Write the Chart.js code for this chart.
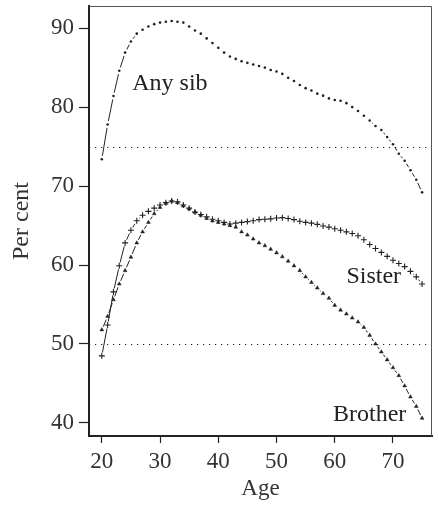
<!DOCTYPE html>
<html>
<head>
<meta charset="utf-8">
<script src="https://cdn.jsdelivr.net/npm/chart.js@4.4.1/dist/chart.umd.min.js"></script>
<style>
  html, body { margin: 0; padding: 0; background: #fff; }
  #wrap { width: 439px; height: 508px; }
</style>
</head>
<body>
<div id="wrap"><canvas id="chart"></canvas></div>
<script>
// age in years, one point per year
const AGES = [20, 21, 22, 23, 24, 25, 26, 27, 28, 29, 30, 31, 32, 33, 34, 35, 36, 37, 38, 39,
  40, 41, 42, 43, 44, 45, 46, 47, 48, 49, 50, 51, 52, 53, 54, 55, 56, 57, 58, 59,
  60, 61, 62, 63, 64, 65, 66, 67, 68, 69, 70, 71, 72, 73, 74, 75];

// per cent with any sibling alive
const ANY_SIB = [73.4, 77.8, 81.4, 84.6, 86.9, 88.3, 89.3, 89.8, 90.2, 90.5, 90.7, 90.8, 90.9, 90.8, 90.7, 90.2, 89.7, 89.3, 88.7, 88.1,
  87.5, 86.9, 86.4, 86.1, 85.8, 85.6, 85.4, 85.2, 85.0, 84.7, 84.5, 84.2, 83.7, 83.3, 82.8, 82.4, 82.1, 81.7, 81.45, 81.1,
  80.9, 80.8, 80.5, 80.0, 79.5, 78.9, 78.3, 77.6, 77.1, 76.2, 75.3, 74.1, 73.2, 72.0, 70.8, 69.2];

const SISTER = [48.5, 52.4, 56.6, 59.9, 62.8, 64.4, 65.6, 66.3, 66.8, 67.2, 67.6, 67.9, 68.1, 68.0, 67.6, 67.2, 66.7, 66.4, 66.1, 65.8,
  65.6, 65.4, 65.2, 65.3, 65.4, 65.5, 65.6, 65.75, 65.8, 65.85, 65.95, 66.0, 65.9, 65.75, 65.55, 65.4, 65.3, 65.15, 64.95, 64.8,
  64.6, 64.4, 64.2, 64.0, 63.7, 63.2, 62.6, 62.1, 61.6, 61.1, 60.6, 60.2, 59.8, 59.2, 58.5, 57.6];

const BROTHER = [51.8, 53.5, 55.6, 57.6, 59.3, 61.0, 62.8, 64.2, 65.4, 66.5, 67.3, 67.8, 68.1, 67.9, 67.5, 67.1, 66.7, 66.3, 65.9, 65.6,
  65.4, 65.2, 65.0, 64.8, 64.2, 63.8, 63.3, 62.8, 62.45, 62.0, 61.55, 61.05, 60.5, 59.9, 59.3, 58.5, 57.8, 57.1, 56.4, 55.8,
  54.9, 54.3, 53.8, 53.3, 52.8, 52.1, 51.1, 50.0, 49.0, 48.0, 47.0, 46.0, 44.7, 43.3, 42.1, 40.6];

const X_TICKS = [20, 30, 40, 50, 60, 70];
const Y_TICKS = [40, 50, 60, 70, 80, 90];
const REF_LEVELS = [75, 50];

// curve names, written next to their curves (age, per cent)
const LABELS = [
  { text: 'Any sib', age: 31.7, pct: 82.1 },
  { text: 'Sister',  age: 66.7, pct: 57.7 },
  { text: 'Brother', age: 66.0, pct: 40.2 }
];

const INK = '#222';
const SERIF = "'Liberation Serif', 'DejaVu Serif', serif";
const GAP = 3.5; // blank space left round each marker

// connecting line only shows where the points are far apart
function segLen(c) {
  return Math.hypot(c.p1.x - c.p0.x, c.p1.y - c.p0.y);
}
const segment = {
  borderDash: c => {
    const d = segLen(c) - 2 * GAP;
    return d > 1 ? [d, 2 * GAP] : [0, 1000];
  },
  borderDashOffset: c => {
    const d = segLen(c) - 2 * GAP;
    return d > 1 ? d + GAP : 0;
  },
  borderColor: c => (segLen(c) - 2 * GAP > 1 ? INK : 'rgba(0,0,0,0)')
};

function series(values) {
  return AGES.map((a, i) => ({ x: a, y: values[i] }));
}

// labels sit inside the frame, so no extra room is needed for them
function noEdgePadding(s) {
  s.paddingTop = 0;
  s.paddingBottom = 0;
  s.paddingLeft = 0;
  s.paddingRight = 0;
}

const decor = {
  id: 'decor',
  beforeDatasetsDraw(chart) {
    const { ctx, chartArea: a, scales: { y } } = chart;
    ctx.save();
    ctx.strokeStyle = INK;
    ctx.lineWidth = 1.2;
    ctx.setLineDash([1.2, 4.8]);
    REF_LEVELS.forEach(v => {
      const py = Math.round(y.getPixelForValue(v)) + 0.5;
      ctx.beginPath();
      ctx.moveTo(a.left, py);
      ctx.lineTo(a.right, py);
      ctx.stroke();
    });
    ctx.restore();
  },
  afterDraw(chart) {
    const { ctx, chartArea: a, scales: { x, y } } = chart;
    ctx.save();
    // thin top and right edges of the frame
    ctx.strokeStyle = '#555';
    ctx.lineWidth = 1;
    ctx.beginPath();
    ctx.moveTo(a.left, a.top + 0.5);
    ctx.lineTo(a.right - 0.5, a.top + 0.5);
    ctx.lineTo(a.right - 0.5, a.bottom);
    ctx.stroke();
    ctx.fillStyle = INK;
    ctx.font = '24px ' + SERIF;
    ctx.textAlign = 'center';
    ctx.textBaseline = 'alphabetic';
    LABELS.forEach(l => ctx.fillText(l.text, x.getPixelForValue(l.age), y.getPixelForValue(l.pct)));
    ctx.restore();
  }
};

new Chart(document.getElementById('chart'), {
  type: 'line',
  data: {
    datasets: [
      {
        label: 'Any sib',
        data: series(ANY_SIB),
        borderColor: INK,
        borderWidth: 1,
        pointStyle: 'circle',
        pointRadius: 1.3,
        pointBackgroundColor: INK,
        pointBorderWidth: 0,
        segment
      },
      {
        label: 'Sister',
        data: series(SISTER),
        borderColor: INK,
        borderWidth: 1,
        pointStyle: 'cross',
        pointRadius: 3,
        pointBorderColor: INK,
        pointBorderWidth: 1.1,
        segment
      },
      {
        label: 'Brother',
        data: series(BROTHER),
        borderColor: INK,
        borderWidth: 1,
        pointStyle: 'triangle',
        pointRadius: 2.2,
        pointBackgroundColor: INK,
        pointBorderColor: INK,
        pointBorderWidth: 0.5,
        segment
      }
    ]
  },
  options: {
    responsive: true,
    maintainAspectRatio: false,
    animation: false,
    events: [],
    layout: { padding: { top: 6, right: 7, left: 0, bottom: 0 } },
    plugins: { legend: { display: false }, tooltip: { enabled: false } },
    scales: {
      x: {
        type: 'linear',
        min: 17.8,
        max: 76.7,
        afterBuildTicks: s => { s.ticks = X_TICKS.map(v => ({ value: v })); },
        afterFit: s => { s.height = 72; noEdgePadding(s); },
        grid: { drawOnChartArea: false, drawTicks: true, tickLength: 7, color: INK, tickWidth: 1.2 },
        border: { display: true, color: INK, width: 2 },
        ticks: { color: '#333', padding: 5, font: { family: SERIF, size: 23 }, maxRotation: 0 },
        title: { display: true, text: 'Age', color: '#333', font: { family: SERIF, size: 23 }, padding: { top: 0, bottom: 5 } }
      },
      y: {
        min: 38.35,
        max: 92.8,
        afterBuildTicks: s => { s.ticks = Y_TICKS.map(v => ({ value: v })); },
        afterFit: s => { s.width = 89; noEdgePadding(s); },
        grid: { drawOnChartArea: false, drawTicks: true, tickLength: 10, color: INK, tickWidth: 1.2 },
        border: { display: true, color: INK, width: 2 },
        ticks: { color: '#333', padding: 5, font: { family: SERIF, size: 23 } },
        title: { display: true, text: 'Per cent', color: '#333', font: { family: SERIF, size: 24 }, padding: { top: 7, bottom: 0 } }
      }
    }
  },
  plugins: [decor]
});
</script>
</body>
</html>
